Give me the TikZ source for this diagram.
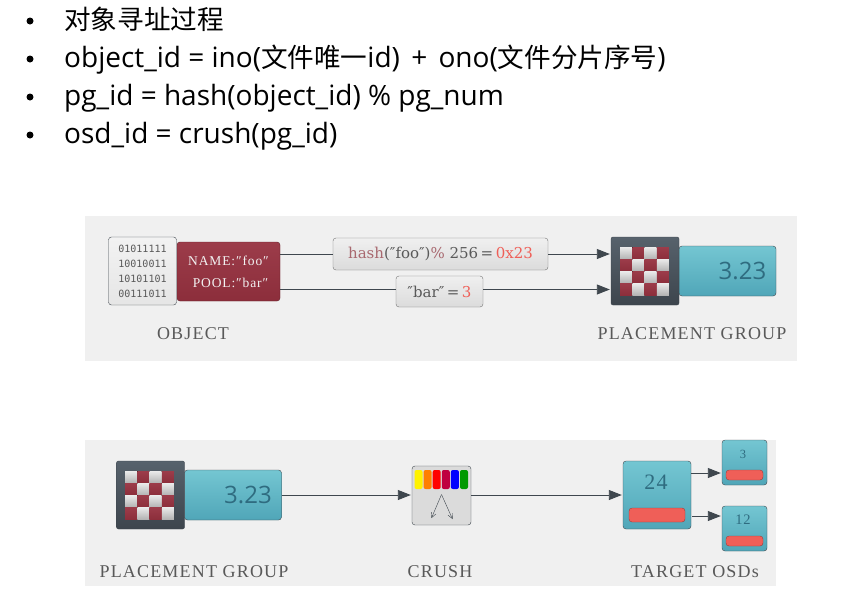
\documentclass[tikz,border=0pt]{standalone}
\usepackage{fontspec}
\setmainfont{Open Sans}
\newfontfamily\cjk[Scale=0.95]{Noto Sans CJK SC}
\newfontfamily\labelfont[LetterSpace=6.5]{Liberation Serif}
\newfontfamily\boxfont{DejaVu Serif}
\newfontfamily\binfont{DejaVu Sans Mono}
\usetikzlibrary{positioning, calc, arrows.meta}
\definecolor{panelgray}{HTML}{F0F0F0}
\definecolor{linedark}{HTML}{3F474E}
\definecolor{wine}{HTML}{8C2E3B}
\definecolor{winetop}{HTML}{9C3C4A}
\definecolor{tealtop}{HTML}{74C6D2}
\definecolor{tealbot}{HTML}{50A6B8}
\definecolor{slatetop}{HTML}{57626C}
\definecolor{slatebot}{HTML}{3D454D}
\definecolor{tealtext}{HTML}{2F6C80}
\definecolor{salmon}{HTML}{EF5F58}
\definecolor{hashpink}{HTML}{A8686F}
\tikzset{
    bullet line/.style={anchor=base west, inner sep=0pt, font=\fontsize{28}{30}\selectfont},
    bullet dot/.style={circle, fill=black, inner sep=0pt, minimum size=7pt},
    panel/.style={fill=panelgray, draw=none, inner sep=0pt, anchor=north west},
    caption/.style={text=black!65, inner sep=0pt, font=\labelfont\fontsize{18}{20}\selectfont},
    pg dark/.style={rounded corners=2pt, inner sep=0pt, minimum size=68pt, top color=slatetop, bottom color=slatebot, draw=slatebot},
    pg value/.style={rounded corners=3pt, inner sep=0pt, minimum width=97pt, minimum height=50pt, top color=tealtop, bottom color=tealbot, draw=linedark, text=tealtext, font=\fontsize{24}{28}\selectfont},
    gray box/.style={rounded corners=3pt, inner sep=0pt, top color=black!6, bottom color=black!14, draw=black!55, font=\boxfont\fontsize{15}{16}\selectfont, text=black!65},
    osd box/.style={rounded corners=3pt, inner sep=0pt, top color=tealtop, bottom color=tealbot, draw=linedark},
    osd text/.style={text=tealtext, inner sep=0pt},
    red bar/.style={rounded corners=3pt, inner sep=0pt, fill=salmon, draw=black!35!salmon},
    flow/.style={draw=linedark, line width=0.9pt, -{Triangle[length=13pt,width=10pt]}, shorten >=1pt},
    plain flow/.style={draw=linedark, line width=0.9pt},
}
\newcommand{\drawchecker}[2]{
    \foreach \i in {0,...,3}
        \foreach \j in {0,...,3} {
            \pgfmathtruncatemacro{\odd}{mod(\i+\j,2)}
            \ifnum\odd=0
                \fill[top color=black!8, bottom color=black!30] (#1+\i*12.25,#2+\j*12.1) rectangle ++(12,12);
            \else
                \fill[top color=winetop, bottom color=wine] (#1+\i*12.25,#2+\j*12.1) rectangle ++(12,12);
            \fi
        }
}
\begin{document}
\begin{tikzpicture}[x=1pt, y=-1pt]
    \useasboundingbox (0,0) rectangle (843,597);

    % bullets
    \node[bullet dot] (dot1) at (30,21) {};
    \node[bullet dot] (dot2) at (30,59) {};
    \node[bullet dot] (dot3) at (30,97) {};
    \node[bullet dot] (dot4) at (30,135) {};
    \node[bullet line] (line1) at (64,29) {\cjk 对象寻址过程};
    \node[bullet line] (line2) at (64,67) {object\_id = ino({\cjk 文件唯一}id)\hspace{4pt} + \hspace{4pt}ono({\cjk 文件分片序号})};
    \node[bullet line] (line3) at (64,105) {pg\_id = hash(object\_id) \% pg\_num};
    \node[bullet line] (line4) at (64,143) {osd\_id = crush(pg\_id)};

    % top panel
    \node[panel, minimum width=712pt, minimum height=145pt] (paneltop) at (85,216) {};
    \node[rounded corners=3pt, top color=winetop, bottom color=wine, draw=black!30!wine, minimum width=103pt, minimum height=59pt, inner sep=0pt,
          align=center, text=black!5, font=\labelfont\fontsize{13.5}{22}\selectfont] (objred) at (228.5,271.5) {NAME:″foo″\\\hspace*{4pt}POOL:″bar″};
    \node[rounded corners=3pt, top color=black!5, bottom color=black!10, draw=linedark, minimum size=68pt, inner sep=0pt,
          align=center, text=black!65, font=\binfont\fontsize{10}{15}\selectfont] (objbin) at (142.5,271) {01011111\\10010011\\10101101\\00111011};
    \node[caption] (objcap) at (193,333.5) {OBJECT};

    \node[gray box, minimum width=215pt, minimum height=32pt] (hashbox) at (440.5,254)
        {\textcolor{hashpink}{hash}(″foo″)\textcolor{hashpink}{\%} 256\,=\,\textcolor{salmon}{0x23}};
    \node[gray box, minimum width=87pt, minimum height=31pt] (barbox) at (439.5,291.5)
        {″bar″\,=\,\textcolor{salmon}{3}};

    \node[pg value] (pgvalue) at (727.5,271) {\hspace*{30pt}3.23};
    \node[pg dark] (pgdark) at (645,271) {};
    \drawchecker{620}{247}
    \node[caption] (pgcap) at (692,333.5) {PLACEMENT GROUP};

    \draw[plain flow] (objred.east |- hashbox.west) -- (hashbox.west);
    \draw[flow] (hashbox.east) -- (pgdark.west |- hashbox.east);
    \draw[plain flow] ($(objred.east)+(0,18)$) -- ($(barbox.west)+(0,-2)$);
    \draw[flow] ($(barbox.east)+(0,-2)$) -- ($(pgdark.west)+(0,18.5)$);

    % bottom panel
    \node[panel, minimum width=691pt, minimum height=146pt] (panelbot) at (85,440) {};
    \node[pg value] (pgvalueb) at (233,495) {\hspace*{30pt}3.23};
    \node[pg dark] (pgdarkb) at (150.5,495) {};
    \drawchecker{125}{471}
    \node[caption] (pgcapb) at (194,571.5) {PLACEMENT GROUP};

    \node[rounded corners=3pt, fill=black!14, draw=linedark, minimum size=59pt, inner sep=0pt] (crushbox) at (441.5,495.5) {};
    \foreach \x/\c in {0/yellow, 1/orange, 2/red, 3/purple, 4/blue, 5/green!60!black}
        \fill[\c, rounded corners=2pt] (414.5+\x*9.1,470) rectangle ++(8,19);
    \draw[linedark, -{Straight Barb[length=5pt,width=5pt]}] (441.5,494.5) -- (431.5,518);
    \draw[linedark, -{Straight Barb[length=5pt,width=5pt]}] (441.5,494.5) -- (452.5,519);
    \node[caption] (crushcap) at (440,571.5) {CRUSH};

    \node[osd box, minimum size=68pt] (osdmain) at (657,495) {};
    \node[osd text, font=\labelfont\fontsize{22}{24}\selectfont] (osdmaintxt) at (656,482) {24};
    \node[red bar, minimum width=56pt, minimum height=14pt] (osdmainbar) at (657,515) {};

    \node[osd box, minimum size=45pt] (osdtop) at (744.5,462.5) {};
    \node[osd text, font=\labelfont\fontsize{12.5}{14}\selectfont] (osdtoptxt) at (743,454) {3};
    \node[red bar, minimum width=37pt, minimum height=10pt] (osdtopbar) at (744.5,475) {};

    \node[osd box, minimum size=45pt] (osdbot) at (744.5,528.5) {};
    \node[osd text, font=\labelfont\fontsize{14.5}{16}\selectfont] (osdbottxt) at (743,520) {12};
    \node[red bar, minimum width=37pt, minimum height=10pt] (osdbotbar) at (744.5,541) {};
    \node[caption] (osdcap) at (695,571.5) {TARGET OSDs};

    \draw[flow] (pgvalueb.east) -- (crushbox.west |- pgvalueb.east);
    \draw[flow] (crushbox.east |- osdmain.west) -- (osdmain.west);
    \draw[flow] ($(osdmain.east)+(0,-22)$) -- (osdtop.west |- 0,473);
    \draw[flow] ($(osdmain.east)+(1,21)$) -- (osdbot.west |- 0,516);
\end{tikzpicture}
\end{document}
